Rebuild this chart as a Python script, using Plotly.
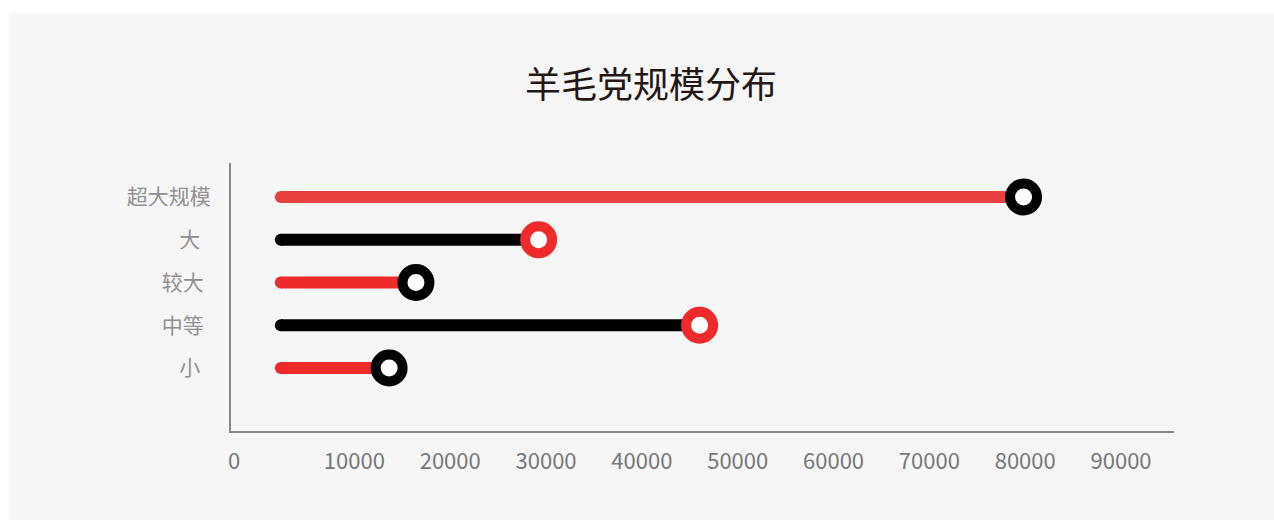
import plotly.graph_objects as go

# ---- data ----
categories = ["超大规模", "大", "较大", "中等", "小"]
values = [82700, 32100, 19300, 48900, 16500]
line_start = 5200
line_colors = ["#e8403f", "#000000", "#ee2a2a", "#000000", "#ee2a2a"]
ring_colors = ["#000000", "#ee2a2a", "#000000", "#ee2a2a", "#000000"]
tick_labels = ["超大规模", "大\u2002", "较大\u2004", "中等\u2004", "小\u2002"]
x_ticks = [0, 10000, 20000, 30000, 40000, 50000, 60000, 70000, 80000, 90000]
x_tick_text = ["0", "10000", "20000", "30000", "40000", "50000",
               "60000", "70000", "80000", "90000"]
title_text = "羊毛党规模分布"

FONT = "Noto Sans CJK SC, Noto Sans, sans-serif"
W, H = 1274, 520
L, R, T, B = 231, 100, 163, 89
PW, PH = W - L - R, H - T - B

fig = go.Figure()
for cat, v, lc, rc in zip(categories, values, line_colors, ring_colors):
    fig.add_trace(go.Scatter(x=[line_start, v], y=[cat, cat], mode="lines",
                             line=dict(color=lc, width=12), hoverinfo="skip",
                             showlegend=False))
    fig.add_trace(go.Scatter(x=[line_start], y=[cat], mode="markers",
                             marker=dict(color=lc, size=12, line=dict(width=0)),
                             hoverinfo="skip", showlegend=False))
    fig.add_trace(go.Scatter(x=[v], y=[cat], mode="markers",
                             marker=dict(color="#ffffff", size=27,
                                         line=dict(color=rc, width=10)),
                             cliponaxis=False, showlegend=False,
                             hovertemplate="%{y}: %{x}<extra></extra>"))

# gray panel behind the chart (starts 9px from the left, 13px from the top)
fig.add_shape(type="rect", xref="paper", yref="paper", layer="below",
              x0=(9 - L) / PW, x1=(W - L + 10) / PW,
              y0=(-B - 10) / PH, y1=(H - B - 13) / PH,
              fillcolor="#f6f6f6", line=dict(width=0))

fig.update_layout(
    width=W, height=H,
    margin=dict(l=L, r=R, t=T, b=B, pad=0),
    paper_bgcolor="#ffffff", plot_bgcolor="rgba(0,0,0,0)",
    font=dict(family=FONT),
    title=dict(text=title_text, x=651 / W, xanchor="center",
               y=1 - 85 / H, yanchor="middle",
               font=dict(size=36, color="#231815", family=FONT)),
    xaxis=dict(range=[0, 98400], tickvals=x_ticks, ticktext=x_tick_text,
               showgrid=False, zeroline=False, showline=True,
               linecolor="#888888", linewidth=2,
               ticks="", ticklabelposition="outside right",
               ticklabelstandoff=10, ticklabelshift=-4,
               tickfont=dict(size=22, color="#777777", family=FONT),
               fixedrange=True),
    yaxis=dict(type="category", categoryarray=categories[::-1],
               range=[-1.474, 4.795], tickvals=categories, ticktext=tick_labels,
               showgrid=False, zeroline=False, showline=True,
               linecolor="#888888", linewidth=2, ticks="",
               ticklabelstandoff=14,
               tickfont=dict(size=21, color="#909090", family=FONT),
               fixedrange=True),
)

fig.write_html("out.html", config={"displayModeBar": False},
               post_script="document.body.style.margin='0';"
                           "document.body.style.overflow='hidden';")
